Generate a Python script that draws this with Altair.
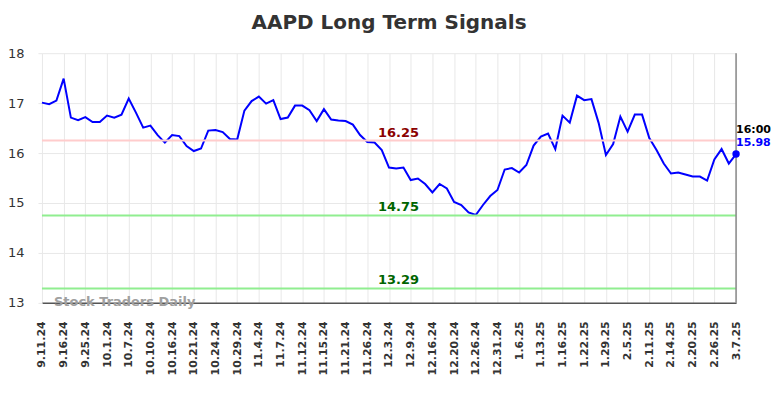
import altair as alt
import pandas as pd

title_text = "AAPD Long Term Signals"

tick_labels = [
    "9.11.24", "9.16.24", "9.25.24", "10.1.24", "10.7.24", "10.10.24", "10.16.24",
    "10.21.24", "10.24.24", "10.29.24", "11.4.24", "11.7.24", "11.12.24", "11.15.24",
    "11.21.24", "11.26.24", "12.3.24", "12.9.24", "12.16.24", "12.20.24", "12.26.24",
    "12.31.24", "1.6.25", "1.13.25", "1.16.25", "1.22.25", "1.29.25", "2.5.25",
    "2.11.25", "2.14.25", "2.20.25", "2.26.25", "3.7.25",
]

prices = [
    17.01, 16.98, 17.05, 17.49, 16.71, 16.66, 16.72, 16.62, 16.62, 16.75,
    16.71, 16.77, 17.09, 16.81, 16.51, 16.55, 16.36, 16.21, 16.36, 16.34,
    16.14, 16.04, 16.09, 16.45, 16.46, 16.42, 16.28, 16.27, 16.85, 17.04,
    17.13, 16.99, 17.06, 16.68, 16.71, 16.95, 16.95, 16.86, 16.64, 16.88,
    16.67, 16.65, 16.64, 16.57, 16.36, 16.22, 16.21, 16.06, 15.71, 15.69,
    15.71, 15.46, 15.49, 15.38, 15.21, 15.38, 15.29, 15.02, 14.96, 14.81,
    14.76, 14.96, 15.14, 15.26, 15.67, 15.70, 15.61, 15.76, 16.15, 16.33,
    16.39, 16.08, 16.75, 16.61, 17.15, 17.06, 17.08, 16.60, 15.96, 16.18,
    16.73, 16.43, 16.77, 16.77, 16.30, 16.06, 15.79, 15.59, 15.61, 15.57,
    15.53, 15.53, 15.45, 15.87, 16.08, 15.79, 15.98,
]

level_values = [16.25, 14.75, 13.29]
level_labels = ["16.25", "14.75", "13.29"]
level_line_colors = ["#ffcccc", "#90ee90", "#90ee90"]
level_text_colors = ["#8b0000", "#006400", "#006400"]

last_time = "16:00"
last_price_label = "15.98"
watermark = "Stock Traders Daily"

df = pd.DataFrame({"i": list(range(len(prices))), "price": prices})
levels = pd.DataFrame({
    "value": level_values,
    "label": level_labels,
    "lc": level_line_colors,
    "tc": level_text_colors,
})
last = df.tail(1).assign(t=last_time, p=last_price_label)

n_last = len(prices) - 1
xscale = alt.Scale(domain=[0, n_last], nice=False, zero=False)
yscale = alt.Scale(domain=[13, 18], nice=False, zero=False)

label_array = "[" + ",".join("'" + s + "'" for s in tick_labels) + "]"

x_axis = alt.Axis(
    values=list(range(0, n_last + 1, 3)),
    labelExpr=label_array + "[round(datum.value/3)]",
    labelAngle=270,
    labelFontWeight="bold",
    labelFontSize=11,
    labelColor="#333333",
    labelPadding=18,
    ticks=False,
    domainColor="#555555",
    domainWidth=1.5,
    grid=True,
    gridColor="#e8e8e8",
    title=None,
    labelOverlap=False,
)
y_axis = alt.Axis(
    values=[13, 14, 15, 16, 17, 18],
    labelFontSize=13,
    labelColor="#333333",
    labelPadding=14,
    domain=False,
    tickColor="#e8e8e8",
    tickSize=4,
    grid=True,
    gridColor="#e8e8e8",
    title=None,
)


def X(field):
    return alt.X(field, scale=xscale, axis=x_axis)


def Y(field):
    return alt.Y(field, scale=yscale, axis=y_axis)


line = alt.Chart(df).mark_line(color="#0000ff", strokeWidth=2).encode(
    x=X("i:Q"),
    y=Y("price:Q"),
)

level_rules = alt.Chart(levels).mark_rule(strokeWidth=2).encode(
    y=Y("value:Q"),
    color=alt.Color("lc:N", scale=None),
)

level_text = alt.Chart(levels).mark_text(
    fontWeight="bold", fontSize=13, baseline="alphabetic", align="center", dy=-4
).encode(
    x=alt.value(357),
    y=Y("value:Q"),
    text="label:N",
    color=alt.Color("tc:N", scale=None),
)

vrule = alt.Chart(last).mark_rule(color="#888888", strokeWidth=1.5).encode(
    x=X("i:Q"),
)

dot = alt.Chart(last).mark_point(filled=True, size=55, color="#0000ff", opacity=1).encode(
    x=X("i:Q"),
    y=Y("price:Q"),
)

time_text = alt.Chart(last).mark_text(
    fontWeight="bold", fontSize=11, align="left", baseline="middle", dx=0, dy=-24, color="#000000"
).encode(
    x=X("i:Q"),
    y=Y("price:Q"),
    text="t:N",
)

price_text = alt.Chart(last).mark_text(
    fontWeight="bold", fontSize=11, align="left", baseline="middle", dx=0, dy=-11, color="#0000ff"
).encode(
    x=X("i:Q"),
    y=Y("price:Q"),
    text="p:N",
)

wm = alt.Chart(pd.DataFrame({"w": [watermark]})).mark_text(
    fontWeight="bold", fontSize=13, align="left", baseline="middle", color="#a0a0a0"
).encode(
    x=alt.value(12),
    y=alt.value(249),
    text="w:N",
)

chart = alt.layer(
    line, level_rules, level_text, vrule, wm, dot, time_text, price_text
).properties(
    width=695,
    height=250,
    title=alt.TitleParams(
        title_text, fontSize=20, fontWeight="bold", color="#333333",
        anchor="middle", offset=14, font="DejaVu Sans",
    ),
    autosize=alt.AutoSizeParams(type="none"),
    padding={"left": 34, "top": 45, "right": 40, "bottom": 80},
).configure(
    font="DejaVu Sans",
).configure_view(
    strokeWidth=0,
)

chart.save("out.html", embed_options={"renderer": "svg", "actions": False})
